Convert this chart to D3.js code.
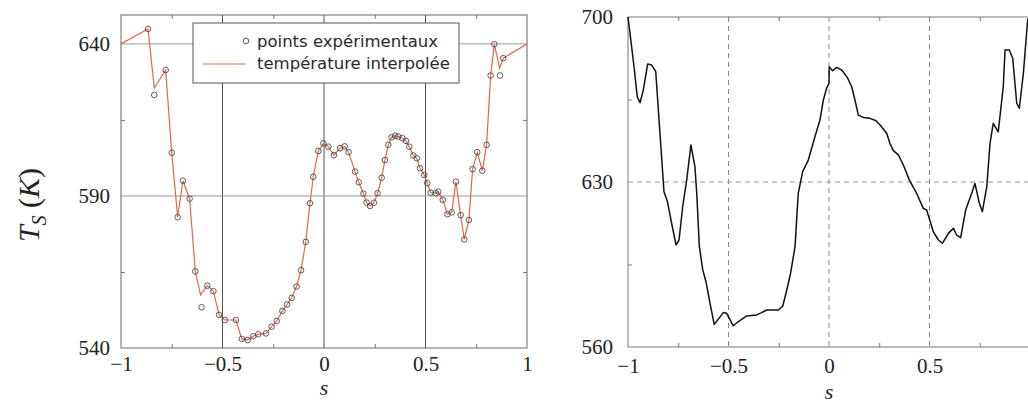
<!DOCTYPE html>
<html>
<head>
<meta charset="utf-8">
<script src="https://cdn.jsdelivr.net/npm/d3@7"></script>
<style>
  body { margin: 0; background: #fff; }
  svg { display: block; }
  .tick-label text { font-family: "Liberation Serif", serif; font-size: 21px; fill: #222; }
</style>
</head>
<body>
<svg id="chart"></svg>
<script>
// experimental points (left panel)
const pointS = [-0.867, -0.836, -0.780, -0.750, -0.721, -0.695, -0.662, -0.634, -0.603, -0.575,
  -0.545, -0.517, -0.489, -0.434, -0.405, -0.376, -0.348, -0.324, -0.286, -0.258,
  -0.233, -0.205, -0.182, -0.159, -0.135, -0.113, -0.090, -0.069, -0.053, -0.028,
  -0.003, 0.021, 0.049, 0.079, 0.102, 0.121, 0.153, 0.171, 0.194, 0.210,
  0.227, 0.246, 0.264, 0.284, 0.300, 0.317, 0.333, 0.350, 0.366, 0.386,
  0.404, 0.420, 0.440, 0.457, 0.473, 0.494, 0.509, 0.526, 0.550, 0.563,
  0.585, 0.608, 0.629, 0.650, 0.673, 0.691, 0.714, 0.732, 0.755, 0.780,
  0.801, 0.821, 0.839, 0.867, 0.883];
const pointT = [644.9, 623.2, 631.4, 604.2, 583.0, 595.0, 589.1, 565.2, 553.4, 560.5,
  558.7, 550.9, 549.2, 549.2, 543.0, 542.6, 543.9, 544.5, 544.8, 547.0,
  548.9, 552.2, 554.3, 556.5, 560.2, 565.6, 574.9, 587.6, 596.3, 604.8,
  607.3, 606.2, 603.4, 605.7, 606.3, 604.4, 598.0, 594.5, 590.8, 587.8,
  586.7, 587.8, 590.9, 596.0, 601.8, 606.8, 609.3, 609.8, 609.5, 609.0,
  608.1, 606.2, 603.3, 602.4, 599.1, 596.9, 594.2, 591.1, 590.9, 591.4,
  588.7, 584.0, 584.6, 594.7, 583.7, 575.7, 582.1, 598.8, 604.4, 598.3,
  606.8, 629.6, 639.9, 629.6, 635.3];

// interpolated temperature (left panel)
const interpS = [-1, -0.867, -0.836, -0.780, -0.750, -0.721, -0.695, -0.662, -0.634, -0.608,
  -0.575, -0.545, -0.517, -0.489, -0.434, -0.405, -0.376, -0.348, -0.324, -0.286,
  -0.258, -0.233, -0.205, -0.182, -0.159, -0.135, -0.113, -0.090, -0.069, -0.053,
  -0.028, -0.003, 0.021, 0.049, 0.079, 0.102, 0.121, 0.153, 0.171, 0.194,
  0.210, 0.227, 0.246, 0.264, 0.284, 0.300, 0.317, 0.333, 0.350, 0.366,
  0.386, 0.404, 0.420, 0.440, 0.457, 0.473, 0.494, 0.509, 0.526, 0.550,
  0.563, 0.585, 0.608, 0.629, 0.650, 0.673, 0.691, 0.714, 0.732, 0.755,
  0.780, 0.801, 0.821, 0.839, 0.865, 0.883, 1];
const interpT = [640.0, 644.9, 625.5, 631.4, 604.2, 583.0, 595.0, 589.1, 565.2, 557.5,
  560.5, 558.7, 550.9, 549.2, 549.2, 543.0, 542.6, 543.9, 544.5, 544.8,
  547.0, 548.9, 552.2, 554.3, 556.5, 560.2, 565.6, 574.9, 587.6, 596.3,
  604.8, 607.3, 606.2, 603.4, 605.7, 606.3, 604.4, 598.0, 594.5, 590.8,
  587.8, 586.7, 587.8, 590.9, 596.0, 601.8, 606.8, 609.3, 609.8, 609.5,
  609.0, 608.1, 606.2, 603.3, 602.4, 599.1, 596.9, 594.2, 591.1, 590.9,
  591.4, 588.7, 584.0, 584.6, 594.7, 583.7, 575.7, 582.1, 598.8, 604.4,
  598.3, 606.8, 629.6, 639.9, 632.0, 635.3, 640.0];

// right panel curve
const rightS = [-1.0, -0.970, -0.954, -0.940, -0.924, -0.902, -0.882, -0.862, -0.841, -0.821,
  -0.804, -0.783, -0.761, -0.746, -0.728, -0.708, -0.687, -0.667, -0.658, -0.645,
  -0.628, -0.612, -0.592, -0.571, -0.540, -0.526, -0.509, -0.476, -0.451, -0.409,
  -0.360, -0.335, -0.310, -0.252, -0.230, -0.210, -0.191, -0.169, -0.153, -0.131,
  -0.103, -0.070, -0.045, -0.028, -0.012, 0.0, 0.001, 0.018, 0.038, 0.063,
  0.091, 0.113, 0.129, 0.146, 0.171, 0.204, 0.234, 0.254, 0.287, 0.303,
  0.320, 0.345, 0.370, 0.400, 0.436, 0.469, 0.486, 0.519, 0.544, 0.564,
  0.594, 0.619, 0.635, 0.655, 0.680, 0.710, 0.726, 0.748, 0.763, 0.785,
  0.801, 0.817, 0.842, 0.867, 0.876, 0.897, 0.914, 0.934, 0.947, 0.967, 0.989];
const rightT = [700.0, 678.9, 666.2, 663.6, 669.0, 680.1, 679.6, 676.8, 650.7, 625.9,
  621.7, 612.5, 603.3, 605.4, 619.5, 630.8, 645.7, 636.5, 625.2, 602.6,
  592.7, 587.7, 578.5, 569.6, 573.0, 574.6, 574.3, 569.0, 570.8, 573.2,
  573.6, 574.6, 575.7, 575.7, 577.4, 584.2, 591.3, 602.6, 625.2, 634.4,
  639.3, 649.2, 656.3, 664.8, 669.8, 671.9, 678.9, 677.2, 678.6, 677.5,
  674.4, 670.4, 664.8, 658.4, 657.4, 657.0, 656.0, 654.2, 650.7, 646.4,
  643.3, 641.5, 637.2, 630.8, 625.2, 618.8, 618.1, 608.9, 605.4, 604.0,
  608.2, 610.4, 607.5, 606.4, 618.1, 625.2, 629.4, 621.0, 617.4, 628.0,
  646.4, 654.9, 651.3, 670.4, 686.0, 686.0, 682.5, 663.4, 661.3, 676.1, 699.4];

const leftXTicks = [-1, -0.5, 0, 0.5, 1];
const leftYTicks = [540, 590, 640];
const rightXTicks = [-1, -0.5, 0, 0.5];
const rightYTicks = [560, 630, 700];
const minorX = [-0.75, -0.25, 0.25, 0.75];
const legendLabels = ["points expérimentaux", "température interpolée"];

const width = 1028, height = 403;
const svg = d3.select("#chart").attr("width", width).attr("height", height);
const fmt = d3.format("~g");

// ---------- left panel ----------
const xL = d3.scaleLinear().domain([-1, 1]).range([121, 527]);
const yL = d3.scaleLinear().domain([540, 649.5]).range([348, 15]);

const left = svg.append("g");

// grid
left.selectAll(".vgrid").data([-0.5, 0, 0.5]).enter().append("line")
  .attr("x1", d => xL(d)).attr("x2", d => xL(d))
  .attr("y1", yL.range()[1]).attr("y2", yL.range()[0])
  .attr("stroke", "#555").attr("stroke-width", 1);
left.selectAll(".hgrid").data([590, 640]).enter().append("line")
  .attr("x1", xL.range()[0]).attr("x2", xL.range()[1])
  .attr("y1", d => yL(d)).attr("y2", d => yL(d))
  .attr("stroke", "#999").attr("stroke-width", 1);

// minor inward ticks
const tickStyle = g => {
  g.select(".domain").remove();
  g.selectAll("line").attr("stroke", "#777");
  g.selectAll("text").remove();
};
left.append("g").attr("transform", `translate(0,${yL.range()[0]})`)
  .call(d3.axisBottom(xL).tickValues(minorX).tickSize(-4)).call(tickStyle);
left.append("g").attr("transform", `translate(0,${yL.range()[1]})`)
  .call(d3.axisTop(xL).tickValues(minorX).tickSize(-4)).call(tickStyle);
left.append("g").attr("transform", `translate(${xL.range()[0]},0)`)
  .call(d3.axisLeft(yL).tickValues([565, 615]).tickSize(-4)).call(tickStyle);
left.append("g").attr("transform", `translate(${xL.range()[1]},0)`)
  .call(d3.axisRight(yL).tickValues([565, 615]).tickSize(-4)).call(tickStyle);

// frame
left.append("rect")
  .attr("x", xL.range()[0]).attr("y", yL.range()[1])
  .attr("width", xL.range()[1] - xL.range()[0])
  .attr("height", yL.range()[0] - yL.range()[1])
  .attr("fill", "none").attr("stroke", "#666").attr("stroke-width", 1);

// interpolated line
const lineL = d3.line().x(d => xL(d[0])).y(d => yL(d[1]));
left.append("path")
  .datum(interpS.map((s, i) => [s, interpT[i]]))
  .attr("d", lineL)
  .attr("fill", "none").attr("stroke", "#e2684a").attr("stroke-width", 1.2);

// points
left.selectAll(".pt").data(pointS.map((s, i) => [s, pointT[i]])).enter().append("circle")
  .attr("cx", d => xL(d[0])).attr("cy", d => yL(d[1])).attr("r", 2.8)
  .attr("fill", "none").attr("stroke", "#4a4a4a").attr("stroke-width", 0.9);

// labels
const labelStyle = g => {
  g.attr("class", "tick-label");
  g.select(".domain").remove();
  g.selectAll("line").remove();
  g.selectAll("text").attr("font-family", null).attr("font-size", null).attr("fill", null);
};
left.append("g").attr("transform", `translate(0,${yL.range()[0]})`)
  .call(d3.axisBottom(xL).tickValues(leftXTicks).tickFormat(fmt).tickSize(0).tickPadding(8))
  .call(labelStyle);
left.append("g").attr("transform", `translate(${xL.range()[0]},0)`)
  .call(d3.axisLeft(yL).tickValues(leftYTicks).tickFormat(fmt).tickSize(0).tickPadding(11))
  .call(labelStyle);

left.append("text")
  .attr("x", xL(0)).attr("y", 395).attr("text-anchor", "middle")
  .attr("font-family", "Liberation Serif, serif").attr("font-style", "italic")
  .attr("font-size", 22).attr("fill", "#222").text("s");

// y title
const yTitle = left.append("text")
  .attr("transform", "translate(39,205) rotate(-90)")
  .attr("text-anchor", "middle")
  .attr("font-family", "Liberation Serif, serif").attr("fill", "#222").attr("font-size", 30);
yTitle.append("tspan").attr("font-style", "italic").text("T");
yTitle.append("tspan").attr("font-style", "italic").attr("font-size", 20).attr("dy", 7).text("S");
yTitle.append("tspan").attr("dy", -7).text(" (");
yTitle.append("tspan").attr("font-style", "italic").text("K");
yTitle.append("tspan").text(")");

// legend
const legend = left.append("g").attr("transform", "translate(193,23)");
legend.append("rect").attr("width", 266).attr("height", 60)
  .attr("fill", "#fff").attr("stroke", "#555").attr("stroke-width", 1);
legend.append("circle").attr("cx", 53).attr("cy", 18).attr("r", 2.8)
  .attr("fill", "none").attr("stroke", "#4a4a4a").attr("stroke-width", 0.9);
legend.append("line").attr("x1", 10).attr("x2", 53).attr("y1", 41).attr("y2", 41)
  .attr("stroke", "#e2684a").attr("stroke-width", 1.2);
legend.selectAll(".lt").data(legendLabels).enter()
  .append("text")
  .attr("x", 64).attr("y", (d, i) => 24 + i * 22)
  .attr("font-family", "DejaVu Sans, sans-serif").attr("font-size", 16.5).attr("fill", "#2a2a2a")
  .text(d => d);

// ---------- right panel ----------
const xR = d3.scaleLinear().domain([-1, 1]).range([628, 1030]);
const yR = d3.scaleLinear().domain([560, 700]).range([347, 17]);
const right = svg.append("g");

right.selectAll(".vgrid").data([-0.5, 0, 0.5]).enter().append("line")
  .attr("x1", d => xR(d)).attr("x2", d => xR(d))
  .attr("y1", yR.range()[1]).attr("y2", yR.range()[0])
  .attr("stroke", "#888").attr("stroke-width", 1).attr("stroke-dasharray", "5,4");
right.selectAll(".hgrid").data([630]).enter().append("line")
  .attr("x1", xR.range()[0]).attr("x2", xR.range()[1])
  .attr("y1", d => yR(d)).attr("y2", d => yR(d))
  .attr("stroke", "#999").attr("stroke-width", 1).attr("stroke-dasharray", "5,4");

right.append("g").attr("transform", `translate(0,${yR.range()[0]})`)
  .call(d3.axisBottom(xR).tickValues(minorX).tickSize(-4)).call(tickStyle);
right.append("g").attr("transform", `translate(0,${yR.range()[1]})`)
  .call(d3.axisTop(xR).tickValues(minorX).tickSize(-4)).call(tickStyle);
right.append("g").attr("transform", `translate(${xR.range()[0]},0)`)
  .call(d3.axisLeft(yR).tickValues([595, 665]).tickSize(-4)).call(tickStyle);

right.append("rect")
  .attr("x", xR.range()[0]).attr("y", yR.range()[1])
  .attr("width", xR.range()[1] - xR.range()[0])
  .attr("height", yR.range()[0] - yR.range()[1])
  .attr("fill", "none").attr("stroke", "#777").attr("stroke-width", 1);

const lineR = d3.line().x(d => xR(d[0])).y(d => yR(d[1]));
right.append("path")
  .datum(rightS.map((s, i) => [s, rightT[i]]))
  .attr("d", lineR)
  .attr("fill", "none").attr("stroke", "#111").attr("stroke-width", 1.5)
  .attr("stroke-linejoin", "round");

right.append("g").attr("transform", `translate(0,${yR.range()[0]})`)
  .call(d3.axisBottom(xR).tickValues(rightXTicks).tickFormat(fmt).tickSize(0).tickPadding(11))
  .call(labelStyle);
right.append("g").attr("transform", `translate(${xR.range()[0]},0)`)
  .call(d3.axisLeft(yR).tickValues(rightYTicks).tickFormat(fmt).tickSize(0).tickPadding(15))
  .call(labelStyle);

right.append("text")
  .attr("x", xR(0)).attr("y", 399).attr("text-anchor", "middle")
  .attr("font-family", "Liberation Serif, serif").attr("font-style", "italic")
  .attr("font-size", 22).attr("fill", "#222").text("s");
</script>
</body>
</html>
